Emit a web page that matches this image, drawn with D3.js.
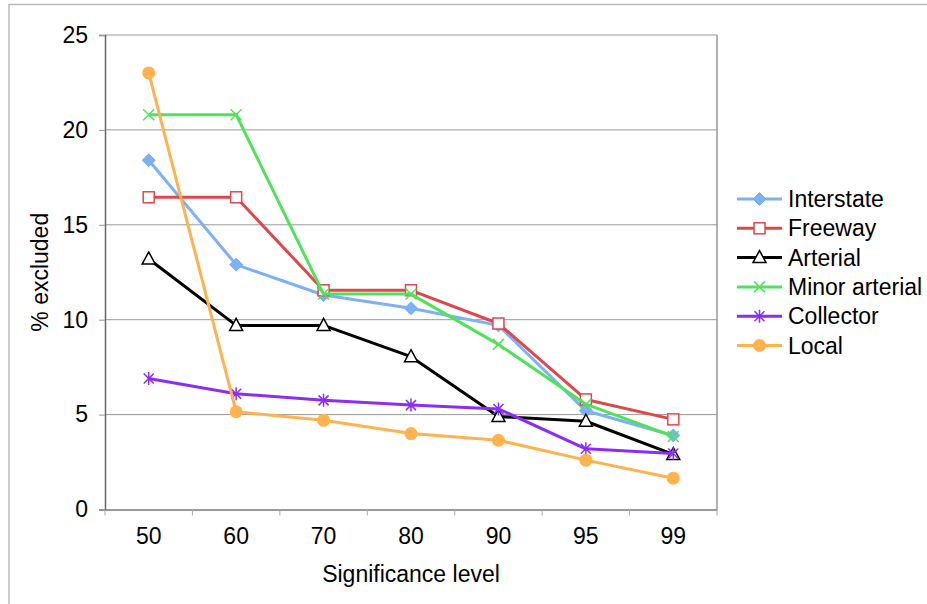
<!DOCTYPE html>
<html><head><meta charset="utf-8">
<script src="https://cdn.jsdelivr.net/npm/d3@7"></script>
<style>body{margin:0;background:#fff}svg{display:block}text{font-family:"Liberation Sans",Arial,sans-serif;fill:#000}</style>
</head><body><svg id="c" width="927" height="604"></svg>
<script>
const categories = ["50","60","70","80","90","95","99"];
const yTicks = [0,5,10,15,20,25];
const seriesNames = ["Interstate","Freeway","Arterial","Minor arterial","Collector","Local"];
const interstate = [18.4,12.9,11.3,10.6,9.7,5.2,3.9];
const freeway = [16.45,16.45,11.55,11.55,9.8,5.8,4.75];
const arterial = [13.2,9.7,9.7,8.05,4.9,4.65,2.9];
const minorArterial = [20.8,20.8,11.35,11.35,8.7,5.55,3.85];
const collector = [6.9,6.1,5.75,5.5,5.3,3.2,2.95];
const local = [23.0,5.15,4.7,4.0,3.65,2.6,1.65];
const seriesValues = [interstate,freeway,arterial,minorArterial,collector,local];
const colors = ["#7cb0f7","#e0474a","#000000","#4fe35a","#8a2ef5","#ffb24e"];
const markers = ["diamond","square","triangle","x","asterisk","circle"];

const FS = 23;
const svg = d3.select("#c");
const L=105,R=717,T=35,B=509.5;
const x = d3.scaleBand().domain(categories).range([L,R]);
const y = d3.scaleLinear().domain([0,25]).range([B,T]);

// outer frame (top & left only visible)
svg.append("line").attr("x1",9).attr("x2",927).attr("y1",4.5).attr("y2",4.5).attr("stroke","#bbb").attr("stroke-width",1.5);
svg.append("line").attr("x1",9).attr("x2",9).attr("y1",4).attr("y2",604).attr("stroke","#bbb").attr("stroke-width",1.5);

// gridlines
svg.append("g").selectAll("line").data(yTicks.filter(d=>d>0)).join("line")
  .attr("x1",L).attr("x2",R).attr("y1",d=>y(d)).attr("y2",d=>y(d))
  .attr("stroke","#999").attr("stroke-width",1);
svg.append("line").attr("x1",R).attr("x2",R).attr("y1",T).attr("y2",B).attr("stroke","#999").attr("stroke-width",1.5);

// y axis
const ya = svg.append("g").attr("transform",`translate(${L},0)`)
  .call(d3.axisLeft(y).tickValues(yTicks).tickSize(6).tickPadding(11).tickFormat(d3.format("d")));
ya.select(".domain").attr("stroke","#666").attr("stroke-width",1.5);
ya.selectAll(".tick line").attr("stroke","#999");
ya.selectAll("text").attr("font-size",FS).attr("font-family","Liberation Sans, Arial, sans-serif");

// x axis
const xa = svg.append("g").attr("transform",`translate(0,${B})`)
  .call(d3.axisBottom(x).tickSize(0).tickPadding(18));
xa.select(".domain").attr("stroke","#777").attr("stroke-width",1.5);
xa.selectAll("text").attr("font-size",FS).attr("font-family","Liberation Sans, Arial, sans-serif");
// band boundary ticks
const bounds = categories.map(c=>x(c)).concat([R]);
svg.append("g").selectAll("line").data(bounds).join("line")
  .attr("x1",d=>d).attr("x2",d=>d).attr("y1",B).attr("y2",B+6).attr("stroke","#aaa").attr("stroke-width",1);

// axis titles
svg.append("text").attr("x",(L+R)/2).attr("y",582).attr("text-anchor","middle").attr("font-size",FS).text("Significance level");
svg.append("text").attr("transform",`translate(48,${(T+B)/2}) rotate(-90)`).attr("text-anchor","middle").attr("font-size",FS).text("% excluded");

function drawMarker(g, type, color, cx, cy){
  if(type==="diamond"){
    g.append("path").attr("d",`M${cx},${cy-6.5}L${cx+6.5},${cy}L${cx},${cy+6.5}L${cx-6.5},${cy}Z`).attr("fill",color).attr("stroke",color).attr("stroke-width",1);
  } else if(type==="square"){
    g.append("rect").attr("x",cx-5.5).attr("y",cy-5.5).attr("width",11).attr("height",11).attr("fill","#fff").attr("stroke",color).attr("stroke-width",1.5);
  } else if(type==="triangle"){
    g.append("path").attr("d",`M${cx},${cy-7}L${cx+6.5},${cy+5}L${cx-6.5},${cy+5}Z`).attr("fill","#fff").attr("stroke",color).attr("stroke-width",1.5);
  } else if(type==="x"){
    g.append("path").attr("d",`M${cx-5.5},${cy-5.5}L${cx+5.5},${cy+5.5}M${cx-5.5},${cy+5.5}L${cx+5.5},${cy-5.5}`).attr("stroke",color).attr("stroke-width",1.5);
  } else if(type==="asterisk"){
    g.append("path").attr("d",`M${cx-5},${cy-5}L${cx+5},${cy+5}M${cx-5},${cy+5}L${cx+5},${cy-5}M${cx},${cy-6.5}L${cx},${cy+6.5}`).attr("stroke",color).attr("stroke-width",1.5);
  } else if(type==="circle"){
    g.append("circle").attr("cx",cx).attr("cy",cy).attr("r",6.5).attr("fill",color);
  }
}

const line = d3.line().x((d,i)=>x(categories[i])+x.bandwidth()/2).y(d=>y(d));
seriesValues.forEach((vals,si)=>{
  const g = svg.append("g");
  g.append("path").datum(vals).attr("d",line).attr("fill","none").attr("stroke",colors[si]).attr("stroke-width",3).attr("stroke-linejoin","round");
  vals.forEach((v,i)=>drawMarker(g,markers[si],colors[si],x(categories[i])+x.bandwidth()/2,y(v)));
});

// legend
const legY0 = 199, legDy = 29.3;
seriesNames.forEach((n,si)=>{
  const g = svg.append("g");
  const ly = legY0 + si*legDy;
  g.append("line").attr("x1",737).attr("x2",782).attr("y1",ly).attr("y2",ly).attr("stroke",colors[si]).attr("stroke-width",3);
  drawMarker(g,markers[si],colors[si],759.5,ly);
  g.append("text").attr("x",788).attr("y",ly+8).attr("font-size",FS).text(n);
});
</script></body></html>
